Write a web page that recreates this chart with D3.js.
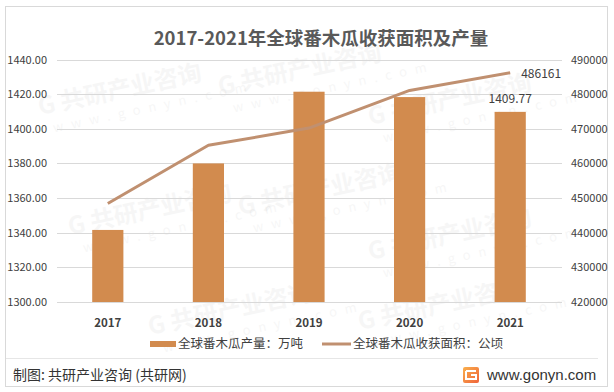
<!DOCTYPE html>
<html>
<head>
<meta charset="utf-8">
<script src="https://d3js.org/d3.v7.min.js"></script>
<style>
  body { margin: 0; background: #fff; }
  svg { display: block; font-family: "Noto Sans CJK SC", "Noto Sans", sans-serif; }
</style>
</head>
<body>
<svg id="chart" width="614" height="392"></svg>
<script>
// données
var annees = ["2017", "2018", "2019", "2020", "2021"];
var production = [1341.6, 1380.0, 1421.4, 1418.3, 1409.77];   // 万吨
var surface = [448430, 465230, 470210, 481070, 486161];        // 公顷
var ticksGauche = [1300, 1320, 1340, 1360, 1380, 1400, 1420, 1440];
var ticksDroite = [420000, 430000, 440000, 450000, 460000, 470000, 480000, 490000];
var titre = "2017-2021年全球番木瓜收获面积及产量";
var nomBarres = "全球番木瓜产量：万吨";
var nomLigne = "全球番木瓜收获面积：公顷";

var couleurBarre = "#d28b4e";
var couleurLigne = "#c09070";

var svg = d3.select("#chart");

// cadre
svg.append("rect")
    .attr("x", 5.5).attr("y", 6.5)
    .attr("width", 602).attr("height", 380)
    .attr("fill", "#fff")
    .attr("stroke", "#d9d9d9");

// filigrane (très léger), gardé à l'intérieur de la zone du graphique
var filigrane = [[40, 115], [220, 95], [370, 125], [70, 235], [240, 215], [370, 260], [150, 335], [360, 330]];
filigrane.forEach(function (p) {
    var g = svg.append("g")
        .attr("transform", "translate(" + p[0] + "," + p[1] + ") rotate(-12)")
        .attr("fill", "#000").attr("opacity", 0.03);
    g.append("text").attr("font-size", 24).attr("font-weight", "bold").text("G 共研产业咨询");
    g.append("text").attr("x", 10).attr("y", 20).attr("font-size", 13).attr("letter-spacing", 8).text("www.gonyn.com");
});

// échelles
var x = d3.scaleBand().domain(annees).range([57.5, 560.5]).padding(0);
var yG = d3.scaleLinear().domain([1300, 1440]).range([302, 59.5]);
var yD = d3.scaleLinear().domain([420000, 490000]).range([302, 59.5]);
var largeurBarre = x.bandwidth() * 0.31;

// grille
svg.append("g").selectAll("line")
    .data(ticksGauche)
    .enter().append("line")
    .attr("x1", 57).attr("x2", 562)
    .attr("y1", function (d) { return Math.round(yG(d)) + 0.5; })
    .attr("y2", function (d) { return Math.round(yG(d)) + 0.5; })
    .attr("stroke", "#d9d9d9").attr("stroke-width", 1);

// axe gauche
var axeG = svg.append("g")
    .attr("transform", "translate(50,0)")
    .call(d3.axisLeft(yG).tickValues(ticksGauche).tickSize(0).tickPadding(3)
        .tickFormat(function (d) { return d3.format(".2f")(d); }));
axeG.select(".domain").remove();

// axe droit
var axeD = svg.append("g")
    .attr("transform", "translate(568,0)")
    .call(d3.axisRight(yD).tickValues(ticksDroite).tickSize(0).tickPadding(3)
        .tickFormat(d3.format("d")));
axeD.select(".domain").remove();

// axe des x
var axeX = svg.append("g")
    .attr("transform", "translate(0,315)")
    .call(d3.axisBottom(x).tickSize(0).tickPadding(4));
axeX.select(".domain").remove();
axeX.selectAll("text").attr("font-weight", "bold").attr("font-size", 11.5);

svg.selectAll(".tick text")
    .attr("fill", "#404040")
    .style("font-family", "\"Noto Sans CJK SC\", sans-serif");
axeG.selectAll("text").attr("font-size", 11);
axeD.selectAll("text").attr("font-size", 11);

// barres
svg.append("g").selectAll("rect")
    .data(production)
    .enter().append("rect")
    .attr("x", function (d, i) { return x(annees[i]) + x.bandwidth() / 2 - largeurBarre / 2; })
    .attr("y", function (d) { return yG(d); })
    .attr("width", largeurBarre)
    .attr("height", function (d) { return yG(1300) - yG(d); })
    .attr("fill", couleurBarre);

// ligne
var ligne = d3.line()
    .x(function (d, i) { return x(annees[i]) + x.bandwidth() / 2; })
    .y(function (d) { return yD(d); });

svg.append("path")
    .datum(surface)
    .attr("d", ligne)
    .attr("fill", "none")
    .attr("stroke", couleurLigne)
    .attr("stroke-width", 3)
    .attr("stroke-linejoin", "round");

// étiquettes de valeur (dernière année)
var dernier = annees.length - 1;
svg.append("text")
    .attr("x", x(annees[dernier]) + x.bandwidth() / 2)
    .attr("y", yG(production[dernier]) - 9)
    .attr("text-anchor", "middle")
    .attr("font-size", 12)
    .attr("fill", "#404040")
    .text(production[dernier].toFixed(2));

svg.append("text")
    .attr("x", x(annees[dernier]) + x.bandwidth() / 2 + 11)
    .attr("y", yD(surface[dernier]) + 1)
    .attr("dy", "0.35em")
    .attr("font-size", 12)
    .attr("fill", "#404040")
    .text(surface[dernier]);

// titre
svg.append("text")
    .attr("x", 321).attr("y", 45)
    .attr("text-anchor", "middle")
    .attr("font-size", 18.5)
    .attr("font-weight", "bold")
    .attr("fill", "#595959")
    .text(titre);

// légende
var legende = svg.append("g").attr("font-size", 12.5).attr("fill", "#404040");
legende.append("rect")
    .attr("x", 150).attr("y", 341).attr("width", 26).attr("height", 6)
    .attr("fill", couleurBarre);
legende.append("text")
    .attr("x", 178).attr("y", 344).attr("dy", "0.35em")
    .text(nomBarres);
legende.append("line")
    .attr("x1", 322).attr("x2", 351).attr("y1", 344).attr("y2", 344)
    .attr("stroke", couleurLigne).attr("stroke-width", 3);
legende.append("text")
    .attr("x", 353).attr("y", 344).attr("dy", "0.35em")
    .text(nomLigne);

// pied de page
svg.append("line")
    .attr("x1", 6).attr("x2", 598).attr("y1", 358.5).attr("y2", 358.5)
    .attr("stroke", "#e6e6e6");

svg.append("text")
    .attr("x", 13).attr("y", 375).attr("dy", "0.35em")
    .attr("font-size", 14)
    .attr("fill", "#333")
    .style("white-space", "pre")
    .text("制图: 共研产业咨询 (共研网)");

var grad = svg.append("defs").append("linearGradient")
    .attr("id", "logoGrad").attr("x1", 0).attr("y1", 0).attr("x2", 1).attr("y2", 1);
grad.append("stop").attr("offset", "0%").attr("stop-color", "#f9b04d");
grad.append("stop").attr("offset", "100%").attr("stop-color", "#f0633a");

var logo = svg.append("g").attr("transform", "translate(463,367)");
logo.append("rect").attr("width", 16).attr("height", 16).attr("rx", 2).attr("fill", "url(#logoGrad)");
logo.append("path")
    .attr("d", "M3,4 H13 M3,4 V12 H13 V8 H8")
    .attr("fill", "none").attr("stroke", "#fff").attr("stroke-width", 2);

svg.append("text")
    .attr("x", 487).attr("y", 375).attr("dy", "0.35em")
    .attr("font-size", 15)
    .attr("fill", "#333")
    .style("font-family", "\"Liberation Sans\", sans-serif")
    .text("www.gonyn.com");
</script>
</body>
</html>
